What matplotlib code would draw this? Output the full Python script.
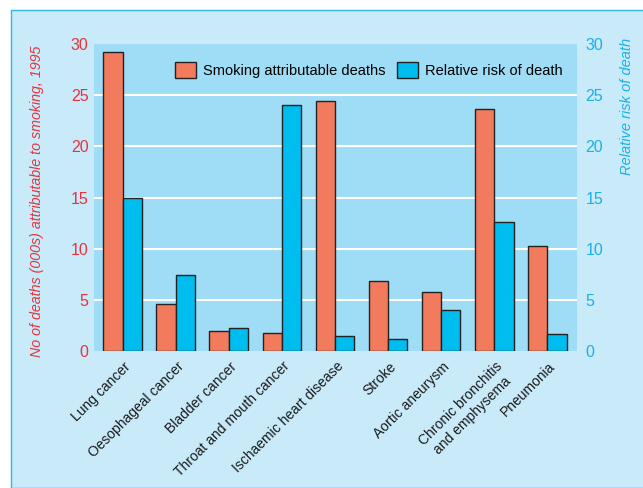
import matplotlib
matplotlib.use("Agg")
import matplotlib.pyplot as plt
from matplotlib.patches import Rectangle
import numpy as np

causes = ["Lung cancer", "Oesophageal cancer", "Bladder cancer", "Throat and mouth cancer",
          "Ischaemic heart disease", "Stroke", "Aortic aneurysm",
          "Chronic bronchitis\nand emphysema", "Pneumonia"]
deaths = [29.2, 4.6, 2.0, 1.8, 24.4, 6.8, 5.8, 23.6, 10.3]
risk = [15.0, 7.4, 2.2, 24.0, 1.5, 1.2, 4.0, 12.6, 1.7]
yticks = [0, 5, 10, 15, 20, 25, 30]

plt.rcParams['font.family'] = ['Liberation Sans', 'DejaVu Sans']

red = "#f27b5e"
blue = "#00bdf0"
red_txt = "#e8333c"
blue_txt = "#1ab0e8"

fig = plt.figure(figsize=(6.43, 4.88), dpi=100)
fig.patch.set_facecolor("white")
# light blue panel behind everything
fig.patches.append(Rectangle((11 / 643, 0), 1.0, 1 - 10 / 488, transform=fig.transFigure,
                             facecolor="#c8eaf9", edgecolor="#2fb6ea", linewidth=1.0, zorder=-5))

ax = fig.add_axes([94 / 643, 1 - 351 / 488, (577 - 94) / 643, (351 - 44) / 488])
ax.set_facecolor("#9fdcf6")
x = np.arange(len(causes))
w = 0.365
ax.bar(x - w / 2, deaths, w, color=red, edgecolor="#222222", linewidth=1.0,
       label="Smoking attributable deaths", zorder=3)
ax.bar(x + w / 2, risk, w, color=blue, edgecolor="#222222", linewidth=1.0,
       label="Relative risk of death", zorder=3)

ax.set_xlim(-0.54, 8.56)
ax.set_ylim(0, 30)
ax.set_yticks(yticks)
for v in yticks[1:-1]:
    ax.axhline(v, color="white", linewidth=1.5, zorder=1)
for s in ax.spines.values():
    s.set_visible(False)
ax.tick_params(axis="y", length=0, labelcolor=red_txt, labelsize=11.5, pad=4)
ax.tick_params(axis="x", length=0, labelsize=10, pad=6)
ax.set_xticks(x + 0.02)
ax.set_xticklabels(causes, rotation=45, ha="right", rotation_mode="anchor",
                   multialignment="center", color="#1a1a1a")

ax2 = ax.twinx()
ax2.set_ylim(0, 30)
ax2.set_yticks(yticks)
for s in ax2.spines.values():
    s.set_visible(False)
ax2.tick_params(axis="y", length=0, labelcolor=blue_txt, labelsize=11.5, pad=6)

fig.text(37 / 643, 1 - 201 / 488, "No of deaths (000s) attributable to smoking, 1995",
         rotation=90, ha="center", va="center", color=red_txt, fontsize=10.3, style="italic")
fig.text(627 / 643, 1 - 38 / 488, "Relative risk of death",
         rotation=90, ha="center", va="top", color=blue_txt, fontsize=10.5, style="italic")

leg = ax.legend(loc="upper right", ncol=2, frameon=False, fontsize=10.5,
                handlelength=1.45, handleheight=1.3, columnspacing=0.75,
                handletextpad=0.5, bbox_to_anchor=(0.998, 0.985))
for h in leg.legend_handles:
    h.set_linewidth(1.0)

fig.savefig("out.png", dpi=100)
